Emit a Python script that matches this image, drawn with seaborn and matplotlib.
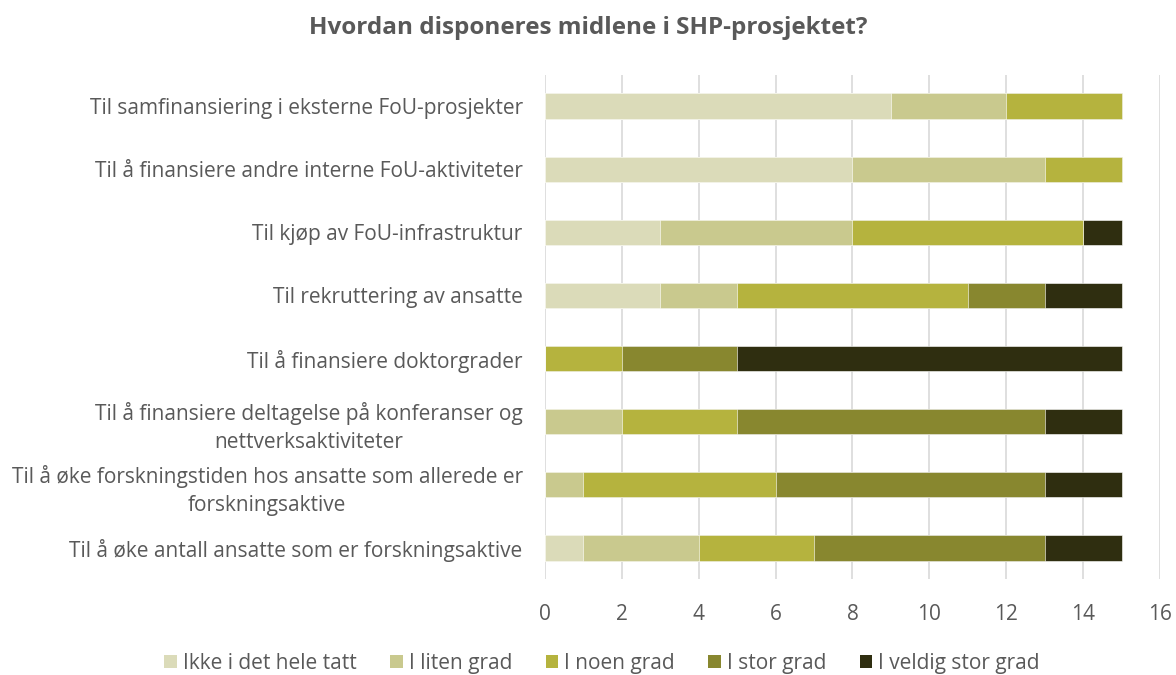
import numpy as np
import pandas as pd
import matplotlib
matplotlib.use("Agg")
import matplotlib.pyplot as plt
import seaborn as sns
from matplotlib.patches import Patch

# Data
kategorier = [
    "Til samfinansiering i eksterne FoU-prosjekter",
    "Til å finansiere andre interne FoU-aktiviteter",
    "Til kjøp av FoU-infrastruktur",
    "Til rekruttering av ansatte",
    "Til å finansiere doktorgrader",
    "Til å finansiere deltagelse på konferanser og\nnettverksaktiviteter",
    "Til å øke forskningstiden hos ansatte som allerede er\nforskningsaktive",
    "Til å øke antall ansatte som er forskningsaktive",
]
nivaer = ["Ikke i det hele tatt", "I liten grad", "I noen grad", "I stor grad", "I veldig stor grad"]
ikke_i_det_hele_tatt = [9, 8, 3, 3, 0, 0, 0, 1]
i_liten_grad = [3, 5, 5, 2, 0, 2, 1, 3]
i_noen_grad = [3, 2, 6, 6, 2, 3, 5, 3]
i_stor_grad = [0, 0, 0, 2, 3, 8, 7, 6]
i_veldig_stor_grad = [0, 0, 1, 2, 10, 2, 2, 2]

farger = ["#DBDBB9", "#C9C98E", "#B5B33E", "#88872F", "#2F2E10"]
tekstfarge = "#595959"

df = pd.DataFrame({
    "kategori": kategorier,
    nivaer[0]: ikke_i_det_hele_tatt,
    nivaer[1]: i_liten_grad,
    nivaer[2]: i_noen_grad,
    nivaer[3]: i_stor_grad,
    nivaer[4]: i_veldig_stor_grad,
})
# cumulative sums so the bars can be layered from the longest to the shortest
kum = df[nivaer].cumsum(axis=1)
kum["kategori"] = df["kategori"]

sns.set_theme(style="white")
plt.rcParams["font.family"] = ["Open Sans", "DejaVu Sans"]

fig = plt.figure(figsize=(11.76, 6.75), dpi=100)
ax = fig.add_axes([0.4634, 0.1415, 0.5230, 0.7481])

for niva, farge in reversed(list(zip(nivaer, farger))):
    sns.barplot(data=kum, x=niva, y="kategori", orient="y", color=farge,
                saturation=1, width=0.4, ax=ax, edgecolor="white",
                linewidth=0.4, zorder=3)

ax.set_xlim(0, 16)
ax.set_ylim(7.5, -0.5)
ax.set_xticks(range(0, 17, 2))
ax.grid(axis="x", color="#D9D9D9", linewidth=1.2, zorder=0)
ax.grid(axis="y", visible=False)
for s in ["top", "right", "bottom", "left"]:
    ax.spines[s].set_visible(False)
ax.set_xlabel("")
ax.set_ylabel("")
ax.tick_params(axis="x", length=0, pad=18, labelsize=15, labelcolor=tekstfarge)
ax.tick_params(axis="y", length=0, pad=16, labelsize=15, labelcolor=tekstfarge)
for lab in ax.get_yticklabels():
    lab.set_multialignment("center")
    lab.set_linespacing(1.4)

fig.suptitle("Hvordan disponeres midlene i SHP-prosjektet?", x=0.5, y=0.958,
             va="center", fontsize=17.5, fontweight="bold", color=tekstfarge)

handles = [Patch(facecolor=f, edgecolor="none") for f in farger]
fig.legend(handles, nivaer, loc="center", bbox_to_anchor=(0.512, 0.017), ncol=5,
           frameon=False, fontsize=15, labelcolor=tekstfarge, handlelength=0.6,
           handleheight=0.6, handletextpad=0.3, columnspacing=1.6)

fig.savefig("out.png", dpi=100)
